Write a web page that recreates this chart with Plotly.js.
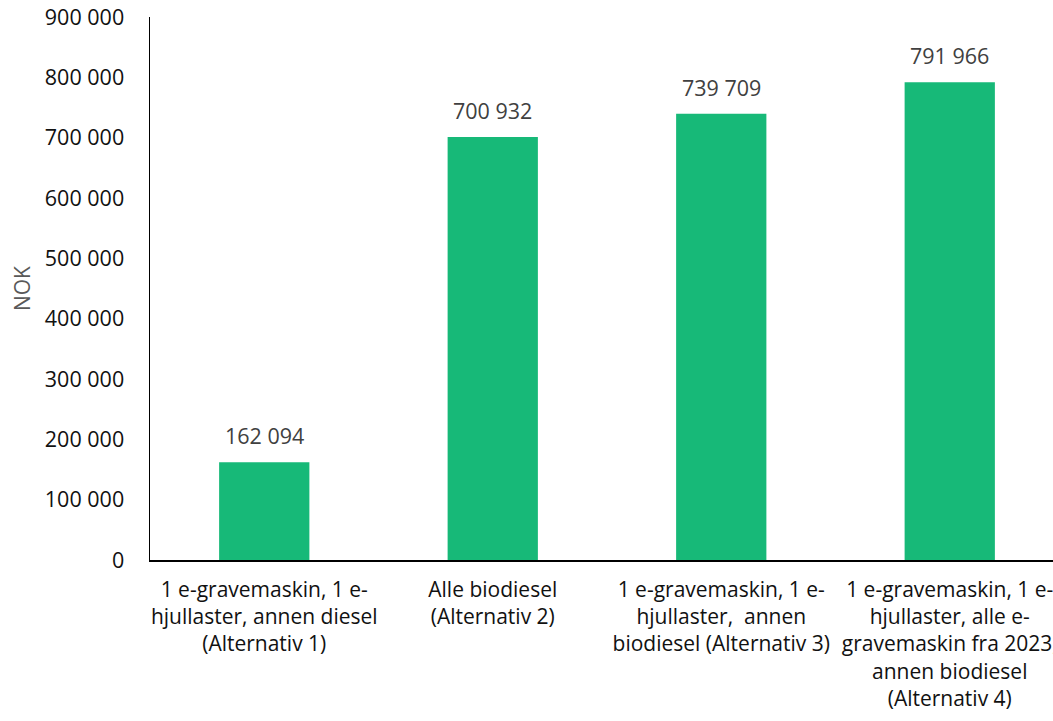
<!DOCTYPE html>
<html>
<head>
<meta charset="utf-8">
<script src="https://cdn.plot.ly/plotly-3.0.1.min.js"></script>
<style>
html, body { margin: 0; padding: 0; overflow: hidden; background: #fff; }
#chart { width: 1066px; height: 721px; }
</style>
</head>
<body>
<div id="chart"></div>
<script>
const categories = [
  "1 e-gravemaskin, 1 e-<br>hjullaster, annen diesel<br>(Alternativ 1)",
  "Alle biodiesel<br>(Alternativ 2)",
  "1 e-gravemaskin, 1 e-<br>hjullaster,  annen<br>biodiesel (Alternativ 3)",
  "1 e-gravemaskin, 1 e-<br>hjullaster, alle e-<br>gravemaskin fra 2023,<br>annen biodiesel<br>(Alternativ 4)"
];
const values = [162094, 700932, 739709, 791966];
const tickValues = [0, 100000, 200000, 300000, 400000, 500000, 600000, 700000, 800000, 900000];

function fmt(v) {
  return String(Math.round(v)).replace(/\B(?=(\d{3})+(?!\d))/g, " ");
}

const FONT = "Open Sans, sans-serif";

const trace = {
  type: "bar",
  x: categories,
  y: values,
  marker: { color: "#17B978" },
  width: 0.395,
  hoverinfo: "skip"
};

const annotations = values.map((v, i) => ({
  x: categories[i],
  y: v,
  xref: "x",
  yref: "y",
  text: fmt(v),
  showarrow: false,
  yanchor: "bottom",
  yshift: 10,
  font: { family: FONT, size: 21.5, color: "#404040" }
}));

const layout = {
  width: 1066,
  height: 721,
  margin: { l: 150, r: 2, t: 17, b: 161 },
  paper_bgcolor: "#fff",
  plot_bgcolor: "#fff",
  showlegend: false,
  font: { family: FONT, size: 20, color: "#111" },
  xaxis: {
    type: "category",
    showline: true,
    linecolor: "#000",
    linewidth: 1.5,
    showgrid: false,
    zeroline: false,
    ticks: "",
    ticklabelstandoff: 10,
    tickfont: { family: FONT, size: 21, color: "#111" }
  },
  yaxis: {
    range: [0, 900000],
    tickvals: tickValues,
    ticktext: tickValues.map(fmt),
    showline: true,
    linecolor: "#000",
    linewidth: 1.5,
    showgrid: false,
    zeroline: false,
    ticks: "",
    ticklabelstandoff: 20,
    tickfont: { family: FONT, size: 21.5, color: "#111" },
    title: { text: "NOK", standoff: 8, font: { family: FONT, size: 21, color: "#595959" } }
  },
  annotations: annotations
};

Plotly.newPlot("chart", [trace], layout, { staticPlot: true, displayModeBar: false });
</script>
</body>
</html>
